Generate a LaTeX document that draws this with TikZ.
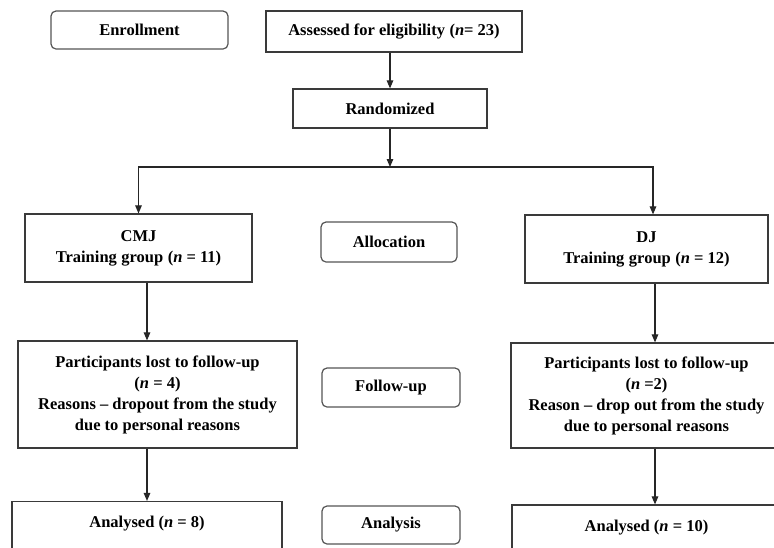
\documentclass[tikz,border=0pt]{standalone}
\usepackage{fontspec}
\setmainfont{Liberation Serif}
\usetikzlibrary{arrows.meta}
\definecolor{edge}{HTML}{3A3A3A}
\definecolor{redge}{HTML}{555555}
\newcommand{\wsp}{\hspace{4.5pt}}
\tikzset{
  every node/.style={font=\fontsize{16.5}{21}\selectfont\bfseries, align=center, inner sep=0pt},
  box/.style={draw=edge, line width=1.2pt, rectangle},
  rbox/.style={draw=redge, line width=1.2pt, rounded corners=5pt, rectangle},
  arr/.style={draw=black!85, line width=1.1pt, -{Triangle[length=8pt,width=6.5pt]}},
  plain/.style={draw=black!85, line width=1.1pt}
}
\begin{document}
\begin{tikzpicture}[x=1pt,y=-1pt]
\useasboundingbox (0,0) rectangle (774,547);
\clip (0,0) rectangle (774,547);
\fill[white] (0,0) rectangle (774,547);

% stage labels
\node[rbox, minimum width=177pt, minimum height=38pt] (enroll) at (139.5,30) {Enrollment};
\node[rbox, minimum width=136pt, minimum height=40pt] (alloc) at (389,242) {Allocation};
\node[rbox, minimum width=138pt, minimum height=39pt] (follow) at (391,387.5) {Follow-up};
\node[rbox, minimum width=138pt, minimum height=38pt] (analysis) at (391,525) {Analysis};

% main boxes
\node[box, minimum width=256pt, minimum height=41pt] (assess) at (394,31.5) {Assessed for eligibility\wsp(\textit{n}= 23)};
\node[box, minimum width=194pt, minimum height=39pt] (rand) at (390,108.5) {Randomized};
\node[box, minimum width=227pt, minimum height=68pt] (cmj) at (138.5,248) {CMJ\\Training\wsp group\wsp (\textit{n} = 11)};
\node[box, minimum width=243pt, minimum height=68pt] (dj) at (646.5,249) {DJ\\Training\wsp group\wsp (\textit{n} = 12)};
\node[box, minimum width=279pt, minimum height=107pt] (fuA) at (157.5,394.5) {Participants\wsp lost to follow-up\\(\textit{n} = 4)\\Reasons -- dropout\wsp from the study\\due to personal reasons};
\node[box, minimum width=271pt, minimum height=105pt] (fuB) at (646.5,395.5) {Participants\wsp lost to follow-up\\(\textit{n} =2)\\Reason -- drop out from the study\\due to personal reasons};
\node[box, minimum width=270pt, minimum height=60pt, text height=12pt, text depth=20pt] (anA) at (147,531.5) {Analysed (\textit{n} = 8)};
\node[box, minimum width=269pt, minimum height=60pt, text height=12pt, text depth=20pt] (anB) at (646.5,535) {Analysed (\textit{n} = 10)};

% connectors
\coordinate (split) at (390,167);
\draw[arr] (assess.south -| rand.north) -- (rand.north);
\draw[arr] (rand.south) -- (split);
\draw[arr] (split) -| (cmj.north);
\draw[arr] (split) -| ([xshift=6.5pt]dj.north);
\draw[arr] ([xshift=8.5pt]cmj.south) -- ([xshift=8.5pt]cmj.south |- fuA.north);
\draw[arr] (fuA.south -| anA.north) -- (anA.north);
\draw[arr] ([xshift=8.5pt]dj.south) -- ([xshift=8.5pt]dj.south |- fuB.north);
\draw[arr] ([xshift=8.5pt]fuB.south) -- ([xshift=8.5pt]fuB.south |- anB.north);
\end{tikzpicture}
\end{document}
